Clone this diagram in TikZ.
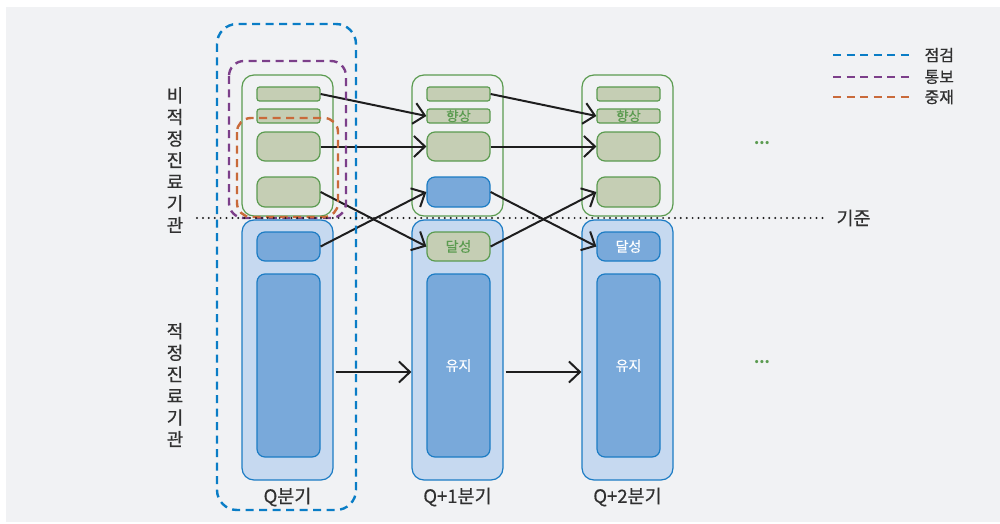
\documentclass[tikz,border=0pt]{standalone}
\usepackage{fontspec}
\setmainfont{Noto Sans CJK KR}[UprightFeatures={FakeBold=0.4}]
\usetikzlibrary{arrows.meta}

\definecolor{bgcol}{HTML}{F1F2F4}
\definecolor{grline}{HTML}{5B9B50}
\definecolor{grfill}{HTML}{C5CEB4}
\definecolor{blline}{HTML}{1C7CC4}
\definecolor{blpale}{HTML}{C6D9F0}
\definecolor{blmid}{HTML}{79A9DA}
\definecolor{dashblue}{HTML}{0A7DC6}
\definecolor{dashpurple}{HTML}{7C3F8A}
\definecolor{dashorange}{HTML}{C96A3A}
\definecolor{ink}{HTML}{1E1E1E}
\definecolor{txt}{HTML}{303030}

\tikzset{
	grp/.style={rounded corners=12pt, line width=1.2pt, minimum width=91pt, inner sep=0pt},
	upgrp/.style={grp, draw=grline, minimum height=141pt},
	lowgrp/.style={grp, draw=blline, fill=blpale, minimum height=260pt},
	bar/.style={draw=grline, fill=grfill, line width=1.2pt, rounded corners=2.5pt,
		minimum width=63pt, minimum height=14pt, inner sep=0pt, text=grline,
		font=\fontsize{13.5}{13.5}\selectfont},
	gbox/.style={draw=grline, fill=grfill, line width=1.2pt, rounded corners=8pt,
		minimum width=63pt, minimum height=29pt, inner sep=0pt, text=grline,
		font=\fontsize{14}{14}\selectfont},
	bbox/.style={gbox, draw=blline, fill=blmid, text=white},
	flow/.style={draw=ink, line width=2pt,
		-{Straight Barb[length=11pt,width=21pt,line width=2pt]}},
	outline/.style={line width=2.4pt, dash pattern=on 8pt off 5.5pt},
	qlabel/.style={text=txt, font=\fontsize{18.5}{18.5}\selectfont},
	lgtext/.style={text=txt, anchor=west, font=\fontsize{16}{16}\selectfont},
	rowlabel/.style={text=txt, align=center, font=\fontsize{18}{21.6}\selectfont},
	more/.style={text=grline, font=\bfseries\fontsize{15}{15}\selectfont},
}

\begin{document}
\begin{tikzpicture}[x=1pt,y=-1pt]
		\useasboundingbox (0,0) rectangle (1000,524);
		\fill[white] (0,0) rectangle (1000,524);
		\fill[bgcol] (6,7) rectangle (1000,522);

		%% Q quarter
		\node[upgrp] at (287.5,145.5)(up1){};
		\node[lowgrp] at (287.5,350)(low1){};
		\node[bar] at (288.5,94)(bar1a){};
		\node[bar] at (288.5,116)(bar1b){};
		\node[gbox] at (288.5,146.5)(mid1a){};
		\node[gbox, minimum height=30pt] at (288.5,192)(mid1b){};
		\node[bbox] at (288.5,246.5)(sub1){};
		\node[bbox, minimum height=183pt] at (288.5,365.5)(keep1){};
		\node[qlabel] at (287.5,497)(q1){Q분기};

		%% Q+1 quarter
		\node[upgrp] at (457.5,145.5)(up2){};
		\node[lowgrp] at (457.5,350)(low2){};
		\node[bar] at (458.5,94)(bar2a){};
		\node[bar] at (458.5,116)(bar2b){향상};
		\node[gbox] at (458.5,146.5)(mid2a){};
		\node[bbox, minimum height=30pt] at (458.5,192)(mid2b){};
		\node[gbox] at (458.5,246.5)(sub2){달성};
		\node[bbox, minimum height=183pt] at (458.5,365.5)(keep2){유지};
		\node[qlabel] at (457.5,497)(q2){Q+1분기};

		%% Q+2 quarter
		\node[upgrp] at (627.5,145.5)(up3){};
		\node[lowgrp] at (627.5,350)(low3){};
		\node[bar] at (628.5,94)(bar3a){};
		\node[bar] at (628.5,116)(bar3b){향상};
		\node[gbox] at (628.5,146.5)(mid3a){};
		\node[gbox, minimum height=30pt] at (628.5,192)(mid3b){};
		\node[bbox] at (628.5,246.5)(sub3){달성};
		\node[bbox, minimum height=183pt] at (628.5,365.5)(keep3){유지};
		\node[qlabel] at (627.5,497)(q3){Q+2분기};

		%% moves between quarters
		\path
			(bar1a.east)edge[flow](bar2b.west)
			(mid1a.east)edge[flow](mid2a.west)
			(mid1b.east)edge[flow](sub2.west)
			(sub1.east)edge[flow](mid2b.west)
			([shift={(2,22)}]low1.east)edge[flow]([shift={(0,22)}]low2.west);
		\path
			(bar2a.east)edge[flow](bar3b.west)
			(mid2a.east)edge[flow](mid3a.west)
			(mid2b.east)edge[flow](sub3.west)
			(sub2.east)edge[flow](mid3b.west)
			([shift={(2,22)}]low2.east)edge[flow]([shift={(0,22)}]low3.west);

		\node[more] at (762,143)(more1){...};
		\node[more] at (762,362)(more2){...};

		%% check / notice / mediation scopes
		\draw[outline, dashblue, rounded corners=20pt] (217,24) rectangle (356,510);
		\draw[outline, dashpurple, rounded corners=15pt] (229,61) rectangle (346,218);
		\draw[outline, dashorange, rounded corners=14pt] (237,118) rectangle (338,217);

		%% threshold line
		\coordinate (bstart) at (197,218);
		\node[qlabel, anchor=west] at (833,218)(base){기준};
		\draw[ink, line width=2.2pt, line cap=round, dash pattern=on 0pt off 5.9pt]
			(bstart)--([xshift=-10pt]base.west);

		%% row labels
		\node[rowlabel] at (175,160)(nonstd){비\\적\\정\\진\\료\\기\\관};
		\node[rowlabel] at (175,385)(std){적\\정\\진\\료\\기\\관};

		%% legend
		\node[lgtext] at (921,55)(lgchk){점검};
		\node[lgtext] at (921,77)(lgntc){통보};
		\node[lgtext] at (921,97)(lgmed){중재};
		\draw[outline, dashblue] ([xshift=-88pt]lgchk.west)--([xshift=-11pt]lgchk.west);
		\draw[outline, dashpurple] ([xshift=-88pt]lgntc.west)--([xshift=-11pt]lgntc.west);
		\draw[outline, dashorange] ([xshift=-88pt]lgmed.west)--([xshift=-11pt]lgmed.west);
\end{tikzpicture}
\end{document}
